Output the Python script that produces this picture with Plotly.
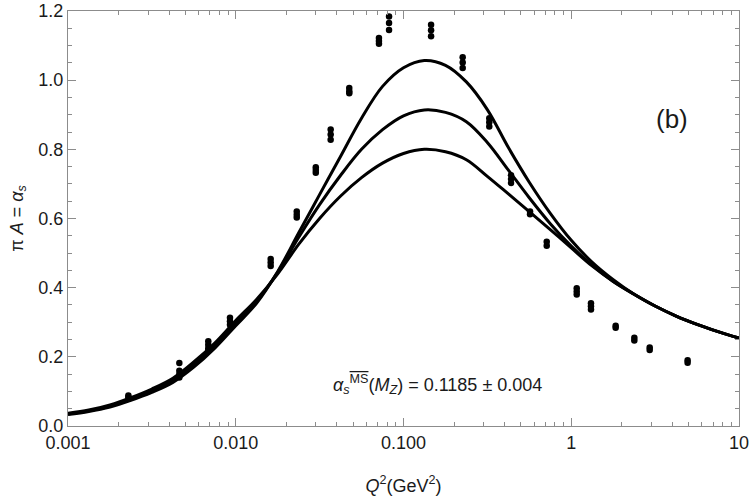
import plotly.graph_objects as go

# Data points (Q^2 in GeV^2, alpha_s)
data_q2 = [0.00229, 0.00229,
           0.00461, 0.00461, 0.00461, 0.00461,
           0.00686, 0.00686, 0.00686, 0.00686,
           0.00924, 0.00924, 0.00924,
           0.01615, 0.01615, 0.01615,
           0.0231, 0.0231, 0.0231,
           0.0300, 0.0300, 0.0300,
           0.0368, 0.0368, 0.0368,
           0.0475, 0.0475, 0.0475,
           0.0714, 0.0714, 0.0714,
           0.0820, 0.0820, 0.0820,
           0.146, 0.146, 0.146,
           0.2253, 0.2253, 0.2253,
           0.3246, 0.3246, 0.3246,
           0.4375, 0.4375, 0.4375,
           0.568, 0.568,
           0.714, 0.714,
           1.078, 1.078, 1.078,
           1.311, 1.311, 1.311,
           1.84, 1.84,
           2.377, 2.377,
           2.935, 2.935,
           4.94, 4.94]
data_alpha = [0.083, 0.088,
              0.182, 0.160, 0.150, 0.140,
              0.245, 0.235, 0.225, 0.218,
              0.313, 0.303, 0.293,
              0.483, 0.473, 0.463,
              0.620, 0.611, 0.603,
              0.748, 0.740, 0.732,
              0.857, 0.843, 0.828,
              0.977, 0.968, 0.962,
              1.122, 1.113, 1.105,
              1.184, 1.165, 1.145,
              1.160, 1.144, 1.127,
              1.066, 1.051, 1.035,
              0.890, 0.878, 0.866,
              0.725, 0.714, 0.703,
              0.620, 0.612,
              0.533, 0.521,
              0.398, 0.389, 0.380,
              0.355, 0.346, 0.337,
              0.290, 0.284,
              0.255, 0.247,
              0.227, 0.220,
              0.190, 0.183]

# Curves (eighth-decade steps)
curve_q2 = [0.001, 0.00133, 0.00178, 0.00237, 0.00316, 0.00422, 0.00562, 0.0075,
            0.01, 0.0133, 0.0178, 0.0237, 0.0316, 0.0422, 0.0562, 0.075,
            0.1, 0.133, 0.178, 0.237, 0.316, 0.422, 0.562, 0.75,
            1.0, 1.33, 1.78, 2.37, 3.16, 4.22, 5.62, 7.5, 10.0]
curve_high = [0.033, 0.042, 0.055, 0.074, 0.097, 0.126, 0.170, 0.225,
              0.290, 0.355, 0.447, 0.558, 0.669, 0.780, 0.890, 0.982,
              1.036, 1.057, 1.043, 0.995, 0.915, 0.805, 0.705, 0.615,
              0.537, 0.474, 0.423, 0.381, 0.347, 0.318, 0.294, 0.273, 0.254]
curve_mid = [0.035, 0.044, 0.058, 0.078, 0.102, 0.132, 0.178, 0.232,
             0.298, 0.360, 0.445, 0.545, 0.640, 0.725, 0.800, 0.857,
             0.897, 0.914, 0.907, 0.880, 0.820, 0.740, 0.660, 0.585,
             0.520, 0.465, 0.418, 0.381, 0.347, 0.318, 0.294, 0.273, 0.254]
curve_low = [0.037, 0.046, 0.061, 0.082, 0.107, 0.138, 0.185, 0.240,
             0.305, 0.366, 0.440, 0.525, 0.600, 0.665, 0.718, 0.760,
             0.788, 0.800, 0.793, 0.770, 0.722, 0.671, 0.620, 0.568,
             0.515, 0.463, 0.418, 0.381, 0.347, 0.318, 0.294, 0.273, 0.254]

x_tickvals = [0.001, 0.01, 0.1, 1, 10]
x_ticktext = ["0.001", "0.010", "0.100", "1", "10"]
y_tickvals = [0.0, 0.2, 0.4, 0.6, 0.8, 1.0, 1.2]
y_ticktext = ["0.0", "0.2", "0.4", "0.6", "0.8", "1.0", "1.2"]

FONT = "Liberation Sans, Arial"
TXT = "#1a1a1a"

fig = go.Figure()
for ys in (curve_high, curve_mid, curve_low):
    fig.add_trace(go.Scatter(x=curve_q2, y=ys, mode="lines",
                             line=dict(color="black", width=3, shape="spline", smoothing=1.0),
                             showlegend=False))
fig.add_trace(go.Scatter(x=data_q2, y=data_alpha, mode="markers",
                         marker=dict(color="black", size=6.5),
                         showlegend=False))

axis_common = dict(showgrid=False, zeroline=False, showline=True, linecolor="#8c8c8c",
                   linewidth=1, mirror="ticks", ticks="inside", tickcolor="#8c8c8c",
                   automargin=False,
                   tickfont=dict(family=FONT, size=18, color=TXT))

fig.update_xaxes(type="log", range=[-3, 1], tickvals=x_tickvals, ticktext=x_ticktext,
                 ticklen=8,
                 minor=dict(ticks="inside", ticklen=4, tickcolor="#8c8c8c",
                            tickvals=[m * 10.0 ** e for e in (-3, -2, -1, 0) for m in range(2, 10)]),
                 title=dict(text="<i>Q</i><sup>2</sup>(GeV<sup>2</sup>)", standoff=30,
                            font=dict(family=FONT, size=18, color=TXT)),
                 **axis_common)
fig.update_yaxes(range=[0, 1.2], tickvals=y_tickvals, ticktext=y_ticktext, ticklen=8,
                 minor=dict(ticks="inside", ticklen=4, tickcolor="#8c8c8c", dtick=0.05),
                 title=dict(text="π <i>A</i> = <i>α<sub>s</sub></i>", standoff=10,
                            font=dict(family=FONT, size=18, color=TXT)),
                 **axis_common)

fig.add_annotation(x=0.900, y=0.74, xref="paper", yref="paper", text="(b)", showarrow=False,
                   xanchor="center", yanchor="middle",
                   font=dict(family=FONT, size=26, color=TXT))
fig.add_annotation(x=0.55, y=0.099, xref="paper", yref="paper",
                   text="<i>α<sub>s</sub></i><sup><span style='text-decoration:overline'>MS</span></sup>(<i>M<sub>Z</sub></i>) = 0.1185 ± 0.004",
                   showarrow=False, xanchor="center", yanchor="middle",
                   font=dict(family=FONT, size=18, color=TXT))

fig.update_layout(width=750, height=496, margin=dict(l=68, r=11, t=11, b=70),
                  plot_bgcolor="white", paper_bgcolor="white")
fig.write_html("out.html")
